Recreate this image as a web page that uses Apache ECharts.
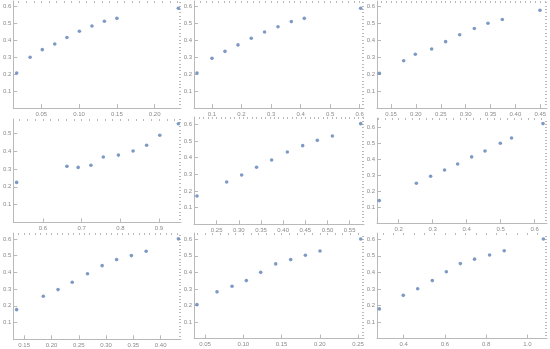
<!DOCTYPE html>
<html><head><meta charset="utf-8">
<script src="https://cdn.jsdelivr.net/npm/echarts@6/dist/echarts.min.js"></script>
<style>html,body{margin:0;padding:0;background:#fff}#c{width:550px;height:349px}</style>
</head><body><div id="c"></div>
<script>
// ---- data ----
const x1=[0.0174,0.0352,0.0513,0.0678,0.0839,0.1004,0.1170,0.1335,0.1500,0.2313];
const y1=[0.206,0.298,0.343,0.376,0.414,0.451,0.482,0.510,0.527,0.586];
const x2=[0.0492,0.1000,0.1440,0.1880,0.2330,0.2780,0.3235,0.3686,0.4126,0.6034];
const y2=[0.206,0.292,0.333,0.371,0.410,0.447,0.478,0.508,0.527,0.586];
const x3=[0.1266,0.1755,0.1989,0.2317,0.2598,0.2880,0.3175,0.3449,0.3737,0.4494];
const y3=[0.204,0.278,0.316,0.347,0.390,0.431,0.467,0.498,0.520,0.575];
const x4=[0.532,0.662,0.691,0.724,0.756,0.795,0.833,0.868,0.902,0.950];
const y4=[0.225,0.315,0.309,0.321,0.367,0.378,0.401,0.433,0.489,0.554];
const x5=[0.2056,0.2726,0.3064,0.3400,0.3740,0.4094,0.4440,0.4770,0.5110,0.5748];
const y5=[0.170,0.254,0.296,0.342,0.386,0.434,0.472,0.504,0.530,0.604];
const x6=[0.143,0.252,0.294,0.335,0.3735,0.4147,0.454,0.499,0.532,0.6245];
const y6=[0.142,0.250,0.294,0.333,0.371,0.415,0.452,0.500,0.533,0.623];
const x7=[0.1361,0.1850,0.2120,0.2380,0.2660,0.2928,0.3193,0.3464,0.3735,0.4325];
const y7=[0.177,0.257,0.297,0.341,0.392,0.440,0.476,0.500,0.526,0.600];
const x8=[0.0395,0.0657,0.0853,0.1040,0.1228,0.1424,0.1620,0.1812,0.2003,0.2535];
const y8=[0.205,0.282,0.316,0.350,0.400,0.451,0.477,0.503,0.529,0.602];
const x9=[0.282,0.398,0.468,0.539,0.607,0.675,0.744,0.817,0.888,1.078];
const y9=[0.179,0.261,0.301,0.350,0.404,0.453,0.480,0.505,0.531,0.602];

// tick labels
const xTicks1=[0.05,0.10,0.15,0.20];
const xTicks2=[0.1,0.2,0.3,0.4,0.5,0.6];
const xTicks3=[0.15,0.20,0.25,0.30,0.35,0.40,0.45];
const xTicks4=[0.6,0.7,0.8,0.9];
const xTicks5=[0.25,0.30,0.35,0.40,0.45,0.50,0.55];
const xTicks6=[0.2,0.3,0.4,0.5,0.6];
const xTicks7=[0.15,0.20,0.25,0.30,0.35,0.40];
const xTicks8=[0.05,0.10,0.15,0.20,0.25];
const xTicks9=[0.4,0.6,0.8,1.0];
const yTicks=[0.1,0.2,0.3,0.4,0.5,0.6];

// axis ranges
const xRanges=[[0.0130,0.2348],[0.0391,0.6147],[0.1219,0.4635],[0.5235,0.9568],[0.1989,0.5823],[0.1363,0.6363],[0.1301,0.4373],[0.0356,0.2578],[0.2706,1.0955]];
const yMaxes=[0.629,0.629,0.629,0.5805,0.644,0.658,0.635,0.638,0.638];

// ---- layout / style ----
const grids=[
 {left:11,top:1,width:170,height:107},
 {left:194,top:1,width:170,height:107},
 {left:377,top:1,width:170,height:107},
 {left:11,top:119,width:170,height:103.5},
 {left:194,top:117,width:170,height:107.3},
 {left:377,top:118,width:170,height:105.3},
 {left:11,top:233,width:170,height:106.3},
 {left:194,top:233,width:170,height:105.5},
 {left:377,top:233,width:170,height:105.5}
];
const decimals=[2,1,2,1,2,1,2,2,1];
const minorSteps=[0.01,0.02,0.01,0.02,0.01,0.02,0.01,0.01,0.05];
const xs=[x1,x2,x3,x4,x5,x6,x7,x8,x9];
const ys=[y1,y2,y3,y4,y5,y6,y7,y8,y9];
const xT=[xTicks1,xTicks2,xTicks3,xTicks4,xTicks5,xTicks6,xTicks7,xTicks8,xTicks9];

const lineColor='#b9b9b9', labelColor='#8a8a8a', dotColor='#5E81B5';
const font='Liberation Sans', fs=6;

function minors(lo,hi,step){
  const out=[]; let k=Math.ceil(lo/step-1e-9);
  for(;k*step<=hi+1e-9;k++){ out.push(+(k*step).toFixed(6)); }
  return out;
}

const option={animation:false,grid:[],xAxis:[],yAxis:[],series:[]};
for(let i=0;i<9;i++){
  option.grid.push(Object.assign({containLabel:false},grids[i]));
  const [lo,hi]=xRanges[i], d=decimals[i];
  option.xAxis.push({gridIndex:i,type:'value',min:lo,max:hi,
    axisLine:{show:true,onZero:false,lineStyle:{color:lineColor,width:1}},
    axisTick:{show:true,inside:true,length:4,lineStyle:{color:lineColor},customValues:xT[i]},
    axisLabel:{customValues:xT[i],formatter:v=>v.toFixed(d),fontSize:fs,fontFamily:font,color:labelColor,margin:3},
    splitLine:{show:false}});
  option.xAxis.push({gridIndex:i,type:'value',min:lo,max:hi,
    axisLine:{show:false,onZero:false},
    axisTick:{show:true,inside:true,length:2,lineStyle:{color:lineColor},customValues:minors(lo,hi,minorSteps[i])},
    axisLabel:{show:false},splitLine:{show:false}});
  const ym=yMaxes[i];
  const yt=yTicks.filter(v=>v<=ym);
  option.yAxis.push({gridIndex:i,type:'value',min:0,max:ym,
    axisLine:{show:true,onZero:false,lineStyle:{color:lineColor,width:1}},
    axisTick:{show:true,inside:true,length:4,lineStyle:{color:lineColor},customValues:yt},
    axisLabel:{customValues:yt,formatter:v=>v.toFixed(1),fontSize:fs,fontFamily:font,color:labelColor,margin:2},
    splitLine:{show:false}});
  option.yAxis.push({gridIndex:i,type:'value',min:0,max:ym,
    axisLine:{show:false,onZero:false},
    axisTick:{show:true,inside:true,length:2,lineStyle:{color:lineColor},customValues:minors(0,ym,0.02)},
    axisLabel:{show:false},splitLine:{show:false}});
  option.series.push({type:'scatter',xAxisIndex:2*i,yAxisIndex:2*i,
    symbol:'circle',symbolSize:3.6,itemStyle:{color:dotColor},
    data:xs[i].map((x,j)=>[x,ys[i][j]])});
}
const chart=echarts.init(document.getElementById('c'),null,{renderer:'canvas'});
chart.setOption(option);
</script></body></html>
